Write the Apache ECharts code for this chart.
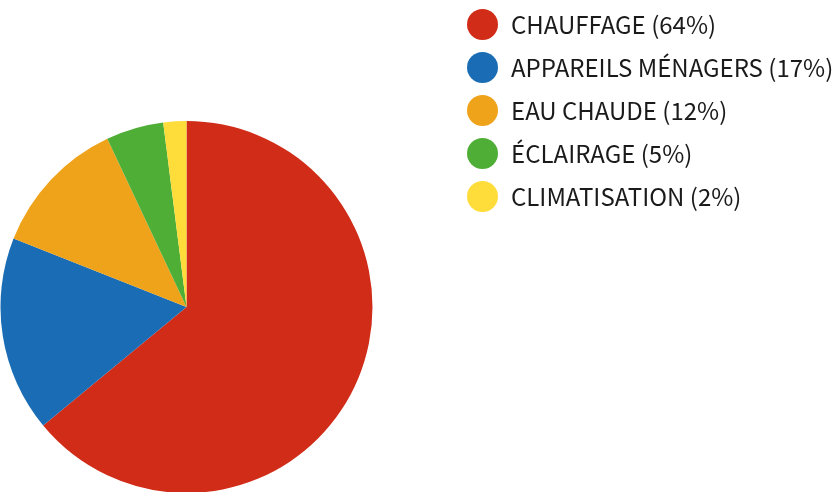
<!DOCTYPE html>
<html><head><meta charset="utf-8">
<script src="https://cdn.jsdelivr.net/npm/echarts@6/dist/echarts.min.js"></script>
<style>html,body{margin:0;padding:0;background:#fff}#c{width:839px;height:492px}</style>
</head><body><div id="c"></div>
<script>
const categories = ["CHAUFFAGE", "APPAREILS MÉNAGERS", "EAU CHAUDE", "ÉCLAIRAGE", "CLIMATISATION"];
const values = [64, 17, 12, 5, 2];
const colors = ["#D02C18", "#1A6DB4", "#EFA31A", "#4FAE36", "#FEDC3A"];

const chart = echarts.init(document.getElementById('c'), null, {renderer: 'canvas'});
const data = categories.map((n, i) => ({name: n, value: values[i], itemStyle: {color: colors[i]}}));
chart.setOption({
  animation: false,
  legend: {
    orient: 'vertical', left: 462, top: 4,
    icon: 'circle', itemWidth: 31, itemHeight: 31, itemGap: 12,
    textStyle: {fontFamily: 'Noto Sans CJK JP', fontSize: 24, color: '#1a1a1a', padding: [0,0,0,8]},
    formatter: n => n + ' (' + values[categories.indexOf(n)] + '%)',
    selectedMode: false
  },
  series: [{
    type: 'pie', center: [186.5, 307], radius: 186, startAngle: 90, clockwise: true,
    label: {show: false}, labelLine: {show: false}, emphasis: {disabled: true}, silent: true,
    data: data
  }]
});
</script></body></html>
